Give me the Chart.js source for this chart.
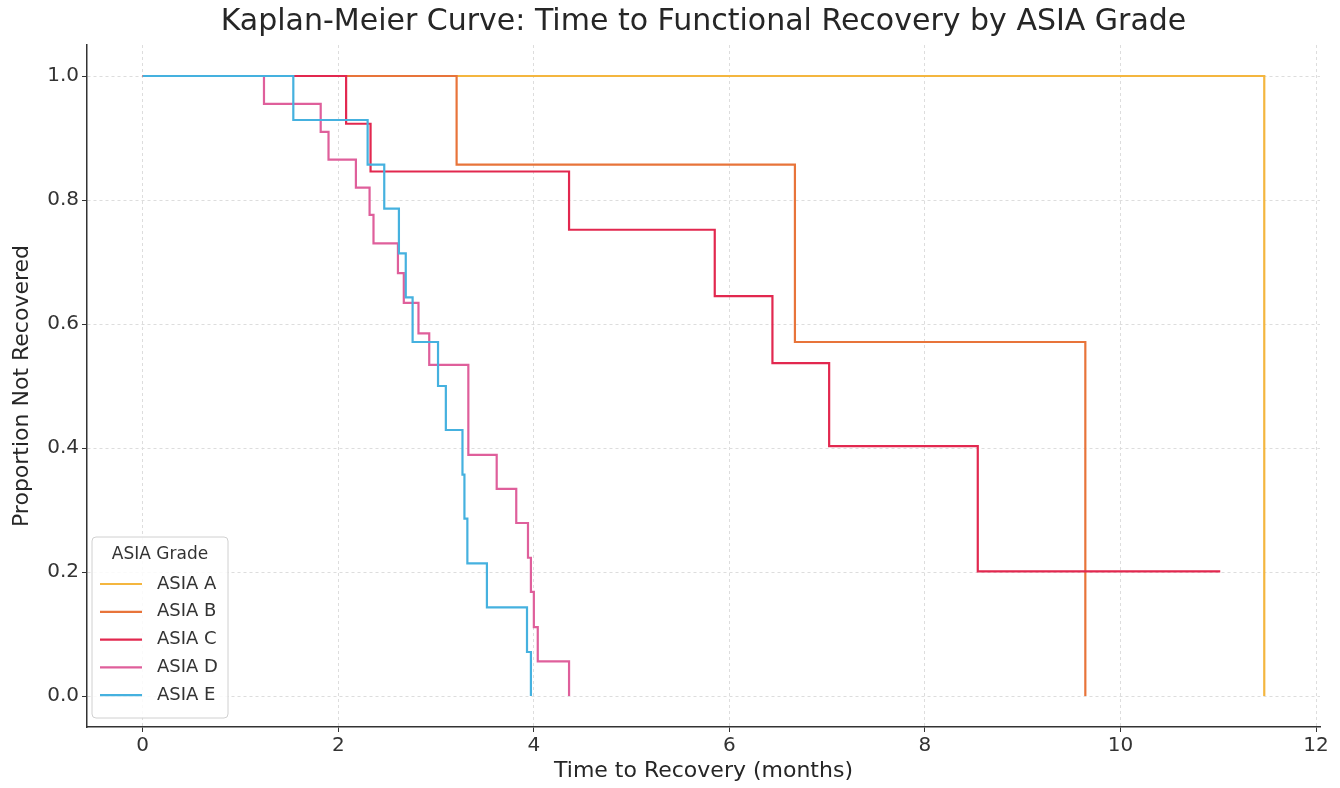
<!DOCTYPE html>
<html>
<head>
<meta charset="utf-8">
<script src="https://cdn.jsdelivr.net/npm/chart.js@4.4.0/dist/chart.umd.min.js"></script>
<style>
    html, body { margin: 0; padding: 0; background: #ffffff; }
    #kmChart { display: block; }
</style>
</head>
<body>
<canvas id="kmChart" width="1340" height="788"></canvas>
<script>
// Kaplan-Meier step data (time in months, proportion not recovered)
const gradeNames = ["ASIA A", "ASIA B", "ASIA C", "ASIA D", "ASIA E"];
const gradeColors = ["#f4b63f", "#e8743a", "#e2284f", "#df5f9b", "#45b1df"];
const chartTitle = "Kaplan-Meier Curve: Time to Functional Recovery by ASIA Grade";

const timesA = [0, 11.47];
const survA = [1.0, 0.0];

const timesB = [0, 3.21, 6.67, 9.64];
const survB = [1.0, 0.857, 0.571, 0.0];

const timesC = [0, 2.08, 2.33, 4.36, 5.85, 6.44, 7.02, 8.54, 11.02];
const survC = [1.0, 0.923, 0.846, 0.752, 0.645, 0.537, 0.403, 0.201, 0.201];

const timesD = [0, 1.24, 1.82, 1.90, 2.18, 2.32, 2.36, 2.61, 2.67, 2.82, 2.93, 3.33, 3.62, 3.82, 3.94, 3.97, 4.00, 4.04, 4.36];
const survD = [1.0, 0.955, 0.91, 0.865, 0.82, 0.776, 0.73, 0.682, 0.634, 0.585, 0.534, 0.389, 0.334, 0.279, 0.223, 0.168, 0.111, 0.056, 0.0];

const timesE = [0, 1.54, 2.30, 2.47, 2.62, 2.69, 2.76, 3.02, 3.10, 3.27, 3.29, 3.32, 3.52, 3.93, 3.97];
const survE = [1.0, 0.929, 0.857, 0.786, 0.714, 0.643, 0.571, 0.5, 0.429, 0.357, 0.286, 0.214, 0.143, 0.071, 0.0];

const xTicks = [0, 2, 4, 6, 8, 10, 12];
const yTicks = [0.0, 0.2, 0.4, 0.6, 0.8, 1.0];

const allTimes = [timesA, timesB, timesC, timesD, timesE];
const allSurv = [survA, survB, survC, survD, survE];

function makePoints(times, surv) {
    return times.map((t, i) => ({ x: t, y: surv[i] }));
}

const datasets = gradeNames.map((name, i) => ({
    label: name,
    data: makePoints(allTimes[i], allSurv[i]),
    borderColor: gradeColors[i],
    backgroundColor: gradeColors[i],
    borderWidth: 2.2,
    pointRadius: 0,
    stepped: "before",
    fill: false,
    order: gradeNames.length - i, // later grades drawn on top
}));

// title centred over the plot area (matplotlib style), not the whole canvas
const plotTitle = {
    id: "plotTitle",
    afterDraw(chart) {
        const ctx = chart.ctx;
        const area = chart.chartArea;
        ctx.save();
        ctx.fillStyle = "#262626";
        ctx.font = "30px 'DejaVu Sans'";
        ctx.textAlign = "center";
        ctx.textBaseline = "middle";
        ctx.fillText(chartTitle, (area.left + area.right) / 2, 22);
        ctx.restore();
    },
};

// legend drawn inside the plot, bottom-left, like the original
const insideLegend = {
    id: "insideLegend",
    afterDraw(chart) {
        const ctx = chart.ctx;
        const area = chart.chartArea;
        const boxX = area.left + 5;
        const boxW = 136;
        const boxH = 181;
        const boxY = area.bottom - 9 - boxH;

        ctx.save();
        ctx.beginPath();
        ctx.roundRect(boxX, boxY, boxW, boxH, 4);
        ctx.fillStyle = "rgba(255,255,255,0.85)";
        ctx.fill();
        ctx.strokeStyle = "#d0d0d0";
        ctx.lineWidth = 1;
        ctx.stroke();

        ctx.fillStyle = "#333333";
        ctx.font = "17px 'DejaVu Sans'";
        ctx.textAlign = "center";
        ctx.textBaseline = "middle";
        ctx.fillText("ASIA Grade", boxX + boxW / 2, boxY + 18);

        ctx.font = "18px 'DejaVu Sans'";
        ctx.textAlign = "left";
        gradeNames.forEach((name, i) => {
            const y = boxY + 47 + i * 27.8;
            ctx.strokeStyle = gradeColors[i];
            ctx.lineWidth = 2.2;
            ctx.beginPath();
            ctx.moveTo(boxX + 8, y);
            ctx.lineTo(boxX + 50, y);
            ctx.stroke();
            ctx.fillStyle = "#333333";
            ctx.fillText(name, boxX + 65, y);
        });
        ctx.restore();
    },
};

const ctx = document.getElementById("kmChart").getContext("2d");
new Chart(ctx, {
    type: "line",
    data: { datasets: datasets },
    options: {
        responsive: false,
        animation: false,
        layout: { padding: { left: 0, right: 20, top: 45, bottom: 0 } },
        plugins: {
            legend: { display: false },
            tooltip: { enabled: false },
            title: { display: false },
        },
        scales: {
            x: {
                type: "linear",
                min: -0.57,
                max: 12.04,
                afterBuildTicks: (axis) => { axis.ticks = xTicks.map((v) => ({ value: v })); },
                afterFit: (axis) => { axis.height = 61; },
                ticks: {
                    color: "#333333",
                    font: { family: "'DejaVu Sans'", size: 20 },
                    padding: 2,
                    maxRotation: 0,
                    callback: (v) => String(v),
                },
                grid: {
                    color: "#dddddd",
                    lineWidth: 1,
                    tickLength: 5,
                    tickColor: "#333333",
                    tickBorderDash: [],
                },
                border: { display: true, color: "#333333", width: 1.5, dash: [3, 3] },
                title: {
                    display: true,
                    text: "Time to Recovery (months)",
                    color: "#262626",
                    font: { family: "'DejaVu Sans'", size: 22 },
                    padding: { top: 0, bottom: 4 },
                },
            },
            y: {
                type: "linear",
                min: -0.05,
                max: 1.05,
                afterBuildTicks: (axis) => { axis.ticks = yTicks.map((v) => ({ value: v })); },
                afterFit: (axis) => { axis.width = 87; },
                ticks: {
                    color: "#333333",
                    font: { family: "'DejaVu Sans'", size: 20 },
                    padding: 3,
                    callback: (v) => Number(v).toFixed(1),
                },
                grid: {
                    color: "#dddddd",
                    lineWidth: 1,
                    tickLength: 5,
                    tickColor: "#333333",
                    tickBorderDash: [],
                },
                border: { display: true, color: "#333333", width: 1.5, dash: [3, 3] },
                title: {
                    display: true,
                    text: "Proportion Not Recovered",
                    color: "#262626",
                    font: { family: "'DejaVu Sans'", size: 22 },
                    padding: { top: 9, bottom: 4 },
                },
            },
        },
    },
    plugins: [plotTitle, insideLegend],
});
</script>
</body>
</html>
